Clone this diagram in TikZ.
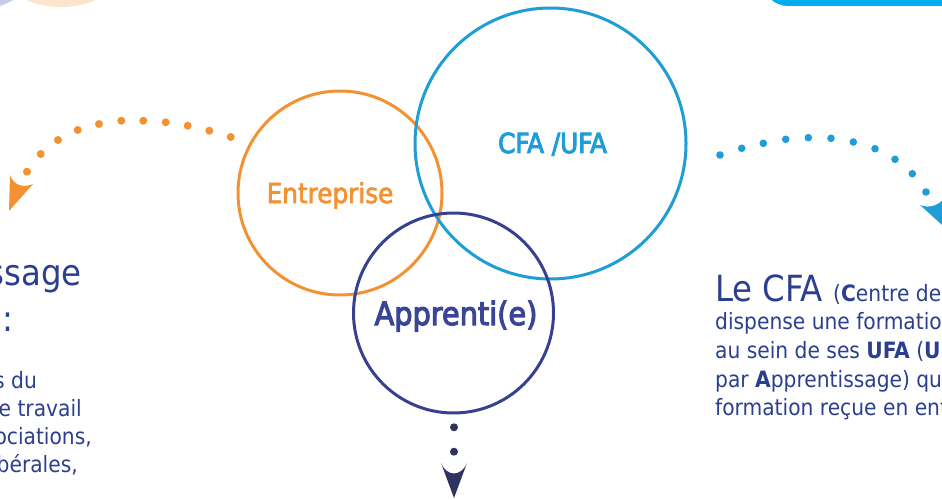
\documentclass[tikz,border=0pt]{standalone}
\usepackage{fontspec}
\setmainfont{DejaVu Sans Condensed}
\newfontfamily\semibold[FakeBold=2.5]{DejaVu Sans Condensed}
\newfontfamily\strongfont[FakeBold=3.5]{DejaVu Sans Condensed}
\definecolor{orangec}{HTML}{F39232}
\definecolor{bluec}{HTML}{1E9DD6}
\definecolor{navyc}{HTML}{374191}
\definecolor{navytxt}{HTML}{3A4597}
\definecolor{darknavy}{HTML}{30325F}
\definecolor{txtblue}{HTML}{2B3F8E}
\definecolor{peach}{HTML}{FDE5CC}
\definecolor{lavender}{HTML}{C7CAEA}
\definecolor{topblue}{HTML}{00AEEF}
\tikzset{
  ring/.style={circle, draw, line width=3pt, inner sep=0pt},
  lab/.style={inner sep=0pt, anchor=base},
  body/.style={inner sep=0pt, text=txtblue, font=\fontsize{22.5pt}{28.5pt}\selectfont},
  big/.style={inner sep=0pt, text=txtblue, font=\fontsize{36pt}{40pt}\selectfont},
}
\begin{document}
\begin{tikzpicture}[x=1pt,y=-1pt]
\useasboundingbox (0,0) rectangle (942,500);
\clip (0,0) rectangle (942,500);
% top decorations
\fill[lavender] (-30,-80) circle (91);
\fill[peach] (61,-83) circle (90);
\fill[topblue, rounded corners=25pt] (763,-60) rectangle (1000,6);
% circles
\node[ring, draw=orangec, minimum size=204pt] (ent) at (340,193) {};
\node[ring, draw=bluec, minimum size=271pt] (cfa) at (550.5,143.5) {};
\node[ring, draw=navyc, minimum size=200pt] (app) at (453.5,313) {};
\node[lab, text=orangec, font=\semibold\fontsize{27.5pt}{30pt}\selectfont] (entl) at (330,203) {Entreprise};
\node[lab, text=bluec, font=\strongfont\fontsize{27.5pt}{30pt}\selectfont] (cfal) at (552.5,153) {CFA /UFA};
\node[lab, text=navytxt, font=\strongfont\fontsize{32pt}{34pt}\selectfont] (appl) at (456,325) {Apprenti(e)};
% orange dotted arc and arrow
\foreach \p in {(230.7,137),(209.3,130.7),(187.7,125.7),(165.7,122.3),(143.3,120.7),(121.3,120.7),(99,124),(77.7,130),(58,140),(40.7,154),(27,171.7)}
  \fill[orangec] \p circle (4);
\coordinate (otip) at (9,211);
\fill[orangec] (10,175) -- (otip) -- (33,184) .. controls (24,188) and (14,186) .. (10,175) -- cycle;
% blue dotted arc and arrow
\foreach \p in {(720,155),(741.7,148.3),(763.3,143.3),(785.7,139.3),(808.3,137.7),(831,138.3),(853.3,142),(875,148.7),(895,159.3),(912.3,173.7),(926,192)}
  \fill[bluec] \p circle (3.8);
\coordinate (btip) at (952,234);
\fill[bluec] (920,205) -- (btip) -- (946,196) .. controls (940,205) and (930,209) .. (920,205) -- cycle;
% navy dotted stem and arrow
\foreach \p in {(454,427.3),(454,451.7)}
  \fill[darknavy] \p circle (4);
\coordinate (ntip) at (454,498);
\fill[darknavy] (441,463) .. controls (447,477) and (461,477) .. (467,463) -- (ntip) -- cycle;
% left text
\node[big, anchor=base east] (lt1) at (82,285) {Les acteurs de l'apprentissage};
\node[big, anchor=base east] (lt2) at (13.5,331) {sont :};
\node[body, anchor=base east] (lb1) at (37,388) {les entreprises du};
\node[body, anchor=base east] (lb2) at (82,416) {contrat de travail};
\node[body, anchor=base east] (lb3) at (92,444) {les associations,};
\node[body, anchor=base east] (lb4) at (78,472) {professions libérales,};
% right text
\node[body, anchor=base west] (r1) at (715,301) {{\fontsize{36pt}{40pt}\selectfont Le CFA }(\textbf{C}entre de Formation d'Apprentis)};
\node[body, anchor=base west] (r2) at (715,329) {dispense une formation générale et technologique};
\node[body, anchor=base west] (r3) at (715,358) {au sein de ses \textbf{UFA} (\textbf{U}nités de Formation};
\node[body, anchor=base west] (r4) at (715,387) {par \textbf{A}pprentissage) qui complète la};
\node[body, anchor=base west] (r5) at (715,415) {formation reçue en entreprise.};
\end{tikzpicture}
\end{document}
